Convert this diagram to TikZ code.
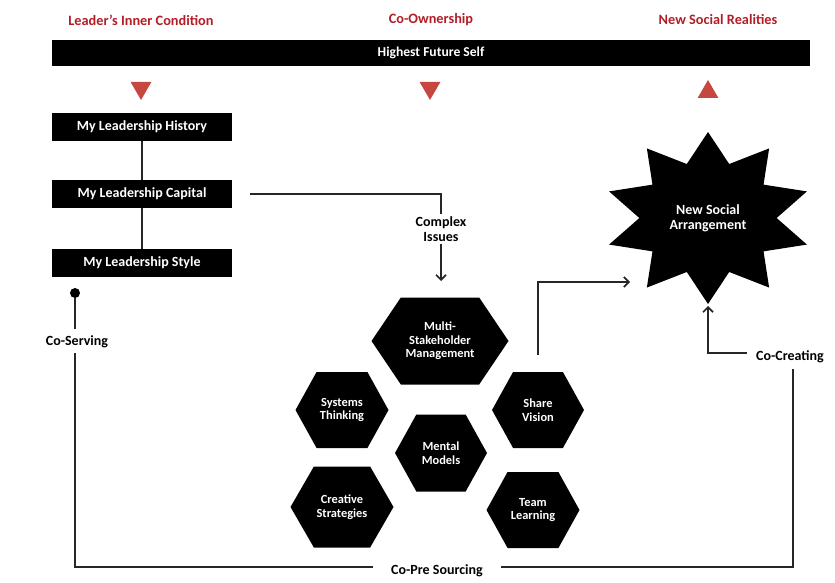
\documentclass[tikz,border=0pt]{standalone}
\usepackage{fontspec}
\setmainfont{Carlito}
\usetikzlibrary{shapes,shapes.geometric,shapes.symbols,arrows,arrows.meta}

\definecolor{labelred}{RGB}{178,30,38}
\definecolor{trired}{RGB}{198,70,64}

\begin{document}
\begin{tikzpicture}[x=1pt,y=-1pt,
	redlabel/.style={text=labelred, font=\bfseries\fontsize{14.3}{16}\selectfont},
	blackbar/.style={fill=black, text=white, font=\bfseries\fontsize{13.6}{15}\selectfont},
	leadbox/.style={fill=black, text=white, font=\bfseries\fontsize{14}{16}\selectfont, minimum width=180pt, minimum height=28pt},
	redtri/.style={regular polygon, regular polygon sides=3, fill=trired, inner sep=0pt, minimum size=24pt},
	hexnode/.style={signal, signal to=east and west, fill=black, text=white, align=center, inner sep=0pt, font=\bfseries\fontsize{12.4}{13.6}\selectfont},
	plainlabel/.style={align=center, inner sep=2pt, font=\bfseries\fontsize{14}{15}\selectfont},
	conn/.style={line width=1.7pt, black!85},
	>={Straight Barb[length=5pt,width=10pt]}]
	\useasboundingbox (0,0) rectangle (835,583);
	\node[redlabel] (lic) at (141,20) {Leader's Inner Condition};
	\node[redlabel] (coo) at (431,20) {Co-Ownership};
	\node[redlabel] (nsr) at (718,20) {New Social Realities};
	\node[blackbar, minimum width=758pt, minimum height=26pt] (hfs) at (431,53) {Highest Future Self};
	\node[redtri, shape border rotate=180] (t1) at (141,88) {};
	\node[redtri, shape border rotate=180] (t2) at (430,88) {};
	\node[redtri] (t3) at (708,92) {};
	\node[leadbox] (hist) at (142,127) {My Leadership History};
	\node[leadbox] (cap) at (142,194) {My Leadership Capital};
	\node[leadbox] (sty) at (142,263) {My Leadership Style};
	\draw[conn] (hist) -- (cap);
	\draw[conn] (cap) -- (sty);
	\node[plainlabel] (ci) at (441,229) {Complex\\Issues};
	\coordinate (capout) at (250,194);
	\coordinate (citip) at (441,281);
	\draw[conn] (capout) -| (ci.north);
	\draw[conn, ->] (ci.south) -- (citip);
	\node[hexnode, minimum width=137pt, minimum height=87pt, signal pointer angle=112] (msm) at (440,341) {Multi-\\Stakeholder\\Management};
	\node[hexnode, minimum width=93pt, minimum height=76pt, signal pointer angle=122] (sys) at (342,410) {Systems\\Thinking};
	\node[hexnode, minimum width=92pt, minimum height=76pt, signal pointer angle=122] (shv) at (538,410) {Share\\Vision};
	\node[hexnode, minimum width=92pt, minimum height=77pt, signal pointer angle=122] (mm) at (441,453) {Mental\\Models};
	\node[hexnode, minimum width=103pt, minimum height=81pt, signal pointer angle=120] (crs) at (342,507) {Creative\\Strategies};
	\node[hexnode, minimum width=93pt, minimum height=76pt, signal pointer angle=122] (tl) at (533,510) {Team\\Learning};
	\fill[black] plot[variable=\k, samples at={0,...,19}] ({708+(1-0.34*mod(\k,2))*104*cos(90+18*\k)}, {218+(1-0.34*mod(\k,2))*86*sin(90+18*\k)}) -- cycle;
	\node[plainlabel, text=white] (nsa) at (708,218) {New Social\\Arrangement};
	\coordinate (svout) at (538,355);
	\coordinate (nsain) at (630,282);
	\draw[conn, ->] (svout) |- (nsain);
	\node[plainlabel] (ccr) at (790,357) {Co-Creating};
	\coordinate (ccin) at (708,306);
	\draw[conn, ->] ([xshift=-7pt,yshift=4pt]ccr.west) -| (ccin);
	\node[circle, fill=black, inner sep=0pt, minimum size=10pt] (ball) at (75,293) {};
	\node[plainlabel] (csv) at (77,342) {Co-Serving};
	\draw[conn] (ball) -- ([yshift=5pt]ball |- csv.north);
	\node[plainlabel] (cps) at (437,571) {Co-Pre Sourcing};
	\draw[conn] ([yshift=-3pt]ball |- csv.south) |- ([xshift=-16pt,yshift=4pt]cps.west);
	\draw[conn] ([xshift=16pt,yshift=4pt]cps.east) -| ([xshift=3pt,yshift=-4pt]ccr.south);
\end{tikzpicture}
\end{document}
